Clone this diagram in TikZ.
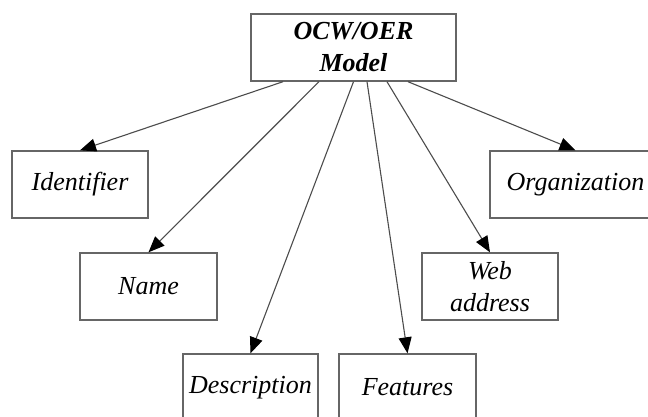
\documentclass[tikz,border=0pt]{standalone}
\usepackage{fontspec}
\setmainfont{Liberation Serif}
\usetikzlibrary{arrows.meta}

\begin{document}
\begin{tikzpicture}[x=1pt, y=-1pt,
                    box/.style={rectangle, draw=black!60, line width=1.4pt, minimum height=67pt,
                                inner sep=2pt, align=center, font=\fontsize{26}{32}\selectfont\itshape},
                    link/.style={draw=black!70, line width=1.1pt,
                                 -{Triangle[length=16pt, width=13pt, color=black]}}]
  \useasboundingbox (0,0) rectangle (648,416);
  \node[box, minimum width=205pt, font=\fontsize{26}{32}\selectfont\bfseries\itshape] (model) at (353.5,47.5) {OCW/OER\\Model};
  \node[box, minimum width=136pt] (ident) at (80,184.5) {Identifier};
  \node[box, minimum width=137pt] (name) at (148.5,286.5) {Name};
  \node[box, minimum width=135pt] (descr) at (250.5,387.5) {Description};
  \node[box, minimum width=137pt] (feat) at (407.5,387.5) {Features};
  \node[box, minimum width=136pt] (web) at (490,286.5) {Web\\address};
  \node[box, minimum width=171pt] (org) at (575.5,184.5) {Organization};
  \draw[link] ([xshift=-70.5pt]model.south) -- (ident.north);
  \draw[link] ([xshift=-34.5pt]model.south) -- (name.north);
  \draw[link] (model.south) -- (descr.north);
  \draw[link] ([xshift=13.5pt]model.south) -- (feat.north);
  \draw[link] ([xshift=33.5pt]model.south) -- (web.north);
  \draw[link] ([xshift=54.5pt]model.south) -- (org.north);
\end{tikzpicture}
\end{document}
